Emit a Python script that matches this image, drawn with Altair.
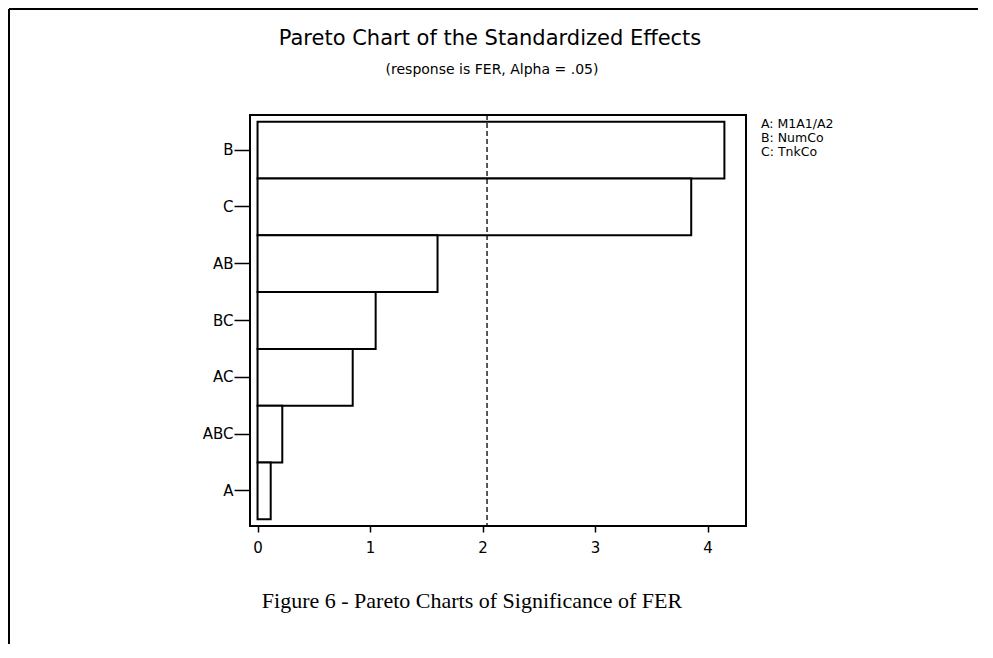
import altair as alt
import pandas as pd

# ---- data ----
effects = ["B", "C", "AB", "BC", "AC", "ABC", "A"]
std_effects = [4.15, 3.855, 1.60, 1.05, 0.846, 0.22, 0.117]
critical_value = [2.04]
x_ticks = [0, 1, 2, 3, 4]
legend_lines = ["A: M1A1/A2", "B: NumCo", "C: TnkCo"]
title_text = ["Pareto Chart of the Standardized Effects"]
subtitle_text = ["(response is FER, Alpha = .05)"]
caption_text = ["Figure 6 - Pareto Charts of Significance of FER"]

SANS = "DejaVu Sans"
SERIF = "Liberation Serif"

W, H = 496, 411
PAD_L, PAD_T, PAD_R, PAD_B = 242, 107, 232, 118

bars_df = pd.DataFrame({"effect": effects, "value": std_effects})
crit_df = pd.DataFrame({"crit": critical_value})

x_scale = alt.Scale(domain=[-0.067, 4.342], nice=False, zero=False)
y_scale = alt.Scale(paddingInner=0, paddingOuter=0.12)

bars = alt.Chart(bars_df).mark_bar(
    fill="white", stroke="black", strokeWidth=2
).encode(
    x=alt.X("value:Q", scale=x_scale,
            axis=alt.Axis(values=x_ticks, title=None, domain=False, grid=False,
                          tickSize=6, tickWidth=1.5, tickColor="black",
                          labelFont=SANS, labelFontSize=15, labelColor="black",
                          labelPadding=8, format="d")),
    x2=alt.datum(0),
    y=alt.Y("effect:N", sort=effects, scale=y_scale,
            axis=alt.Axis(title=None, domain=False, grid=False,
                          tickSize=16, tickWidth=1.5, tickColor="black",
                          labelFont=SANS, labelFontSize=15, labelColor="black",
                          labelPadding=1, labelBaseline="middle")),
)

crit = alt.Chart(crit_df).mark_rule(
    color="black", strokeWidth=1.3, strokeDash=[5, 3]
).encode(x=alt.X("crit:Q", scale=x_scale))


def text_layer(lines, font, size, x, y, align="center"):
    return alt.Chart(pd.DataFrame({"t": lines})).mark_text(
        font=font, fontSize=size, color="black", align=align, baseline="alphabetic"
    ).encode(x=alt.value(x), y=alt.value(y), text="t:N")


title = text_layer(title_text, SANS, 21, 240, -70)
subtitle = text_layer(subtitle_text, SANS, 14, 242, -41)
legend_y = [13.3, 27.3, 41.3]
legend_layers = [
    text_layer([line], SANS, 12.5, 511, yy, align="left")
    for line, yy in zip(legend_lines, legend_y)
]
caption = text_layer(caption_text, SERIF, 22, 222, 493)

border_left = alt.Chart(pd.DataFrame({"k": [0]})).mark_rule(
    color="black", strokeWidth=2
).encode(x=alt.value(1 - PAD_L), y=alt.value(1 - PAD_T), y2=alt.value(H + PAD_B))

border_top = alt.Chart(pd.DataFrame({"k": [0]})).mark_rule(
    color="black", strokeWidth=2
).encode(x=alt.value(1 - PAD_L), x2=alt.value(W + PAD_R), y=alt.value(1 - PAD_T))

chart = alt.layer(
    bars, crit, title, subtitle, *legend_layers, caption, border_left, border_top
).properties(
    width=W, height=H,
    autosize=alt.AutoSizeParams(type="none"),
    padding={"left": PAD_L, "top": PAD_T, "right": PAD_R, "bottom": PAD_B},
    background="white",
).configure_view(
    stroke="black", strokeWidth=2
)

chart.save("out.html", embed_options={"renderer": "svg", "actions": False})
